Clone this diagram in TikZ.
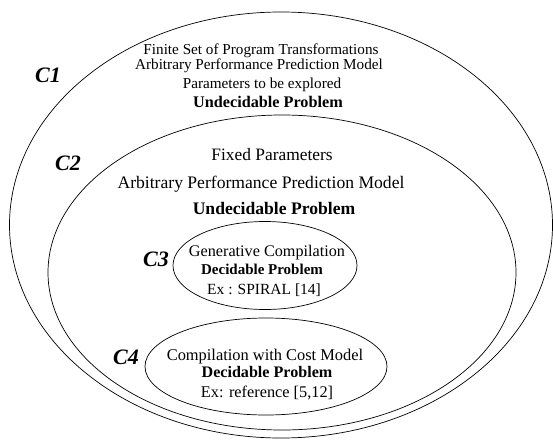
\documentclass[tikz,border=0pt]{standalone}
\usepackage{fontspec}
\setmainfont{Liberation Serif}
\begin{document}
\begin{tikzpicture}[x=1pt,y=-1pt,
  ring/.style={draw=black,line width=0.7pt},
  txt/.style={anchor=base,inner sep=0pt},
  lbl/.style={anchor=base west,inner sep=0pt,font=\fontsize{22}{24}\selectfont\bfseries\itshape}]
\useasboundingbox (0,0) rectangle (553,441);
% ellipses
\draw[ring] (281,225) ellipse [x radius=271.5pt, y radius=213pt];
\draw[ring] (282,272.5) ellipse [x radius=234pt, y radius=157.5pt];
\draw[ring] (265,265.5) ellipse [x radius=92pt, y radius=44pt];
\draw[ring] (266,366.5) ellipse [x radius=121pt, y radius=48.5pt];
% labels
\node[lbl] (c1) at (35,82.7) {C1};
\node[lbl] (c2) at (55,170.7) {C2};
\node[lbl] (c3) at (143,266) {C3};
\node[lbl] (c4) at (113,364) {C4};
% C1 text
\node[txt,font=\fontsize{15.2}{17}\selectfont] (a1) at (261,55) {Finite Set of Program Transformations};
\node[txt,font=\fontsize{15.2}{17}\selectfont] (a2) at (259,70) {Arbitrary Performance Prediction Model};
\node[txt,font=\fontsize{15.2}{17}\selectfont] (a3) at (262,88.5) {Parameters to be explored};
\node[txt,font=\fontsize{16.2}{18}\selectfont\bfseries] (a4) at (268,107) {Undecidable Problem};
% C2 text
\node[txt,font=\fontsize{17.4}{19}\selectfont] (b1) at (272,160.7) {Fixed Parameters};
\node[txt,font=\fontsize{17.6}{19}\selectfont] (b2) at (261,188) {Arbitrary Performance Prediction Model};
\node[txt,font=\fontsize{17.6}{19}\selectfont\bfseries] (b3) at (274,214) {Undecidable Problem};
% C3 text
\node[txt,font=\fontsize{16.2}{18}\selectfont] (d1) at (267,256) {Generative Compilation};
\node[txt,font=\fontsize{15}{17}\selectfont\bfseries] (d2) at (262,274.5) {Decidable Problem};
\node[txt,font=\fontsize{15.5}{17}\selectfont] (d3) at (264,294) {Ex : SPIRAL [14]};
% C4 text
\node[txt,font=\fontsize{16.4}{18}\selectfont] (e1) at (265,360) {Compilation with Cost Model};
\node[txt,font=\fontsize{16.1}{18}\selectfont\bfseries] (e2) at (267,377.3) {Decidable Problem};
\node[txt,font=\fontsize{16.3}{18}\selectfont] (e3) at (267,397.3) {Ex: reference [5,12]};
\end{tikzpicture}
\end{document}
